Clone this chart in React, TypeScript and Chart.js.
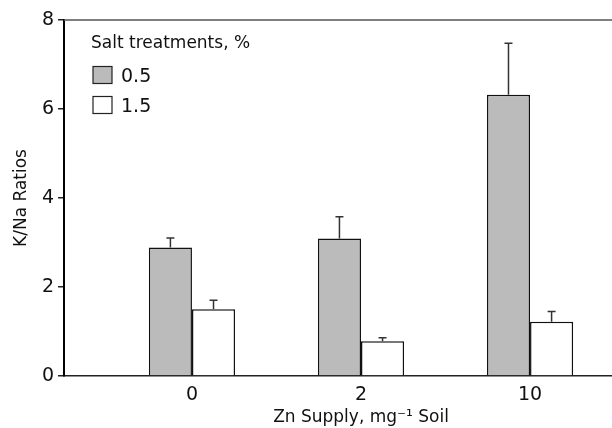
import React, { useEffect, useRef } from "react";
import { Chart, registerables } from "chart.js";

Chart.register(...registerables);

const categories = ["0", "2", "10"];
const seriesLabels = ["0.5", "1.5"];
const legendTitle = "Salt treatments, %";
const lowSalt = [2.89, 3.09, 6.32];
const lowSaltErr = [0.21, 0.49, 1.16];
const highSalt = [1.5, 0.78, 1.22];
const highSaltErr = [0.2, 0.08, 0.23];
const yTicks = [0, 2, 4, 6, 8];
const yTitle = "K/Na Ratios";
const xTitle = "Zn Supply, mg\u207B\u00B9 Soil";

const FONT = "'DejaVu Sans', sans-serif";

export default function App() {
  const ref = useRef<HTMLCanvasElement | null>(null);

  useEffect(() => {
    document.body.style.margin = "0";
    document.body.style.overflow = "hidden";
    const canvas = ref.current;
    if (!canvas) return;

    const errors = [lowSaltErr, highSaltErr];

    const errorPlugin = {
      id: "errorBars",
      afterDatasetsDraw(chart: any) {
        const ctx = chart.ctx;
        const yScale = chart.scales.y;
        ctx.save();
        ctx.strokeStyle = "#333";
        ctx.lineWidth = 1.5;
        chart.data.datasets.forEach((ds: any, di: number) => {
          const meta = chart.getDatasetMeta(di);
          meta.data.forEach((el: any, i: number) => {
            const v = ds.data[i].y;
            const e = errors[di][i];
            const yTop = yScale.getPixelForValue(v + e);
            const yBar = yScale.getPixelForValue(v);
            ctx.beginPath();
            ctx.moveTo(el.x, yBar);
            ctx.lineTo(el.x, yTop);
            ctx.moveTo(el.x - 4, yTop);
            ctx.lineTo(el.x + 4, yTop);
            ctx.stroke();
          });
        });
        ctx.restore();
      },
      afterDraw(chart: any) {
        const ctx = chart.ctx;
        const area = chart.chartArea;
        ctx.save();
        ctx.strokeStyle = "#555";
        ctx.lineWidth = 1.5;
        ctx.beginPath();
        ctx.moveTo(area.left, area.top);
        ctx.lineTo(area.right, area.top);
        ctx.stroke();
        ctx.fillStyle = "#111";
        ctx.font = `17px ${FONT}`;
        ctx.textBaseline = "middle";
        ctx.textAlign = "left";
        ctx.fillText(legendTitle, 91, 44);
        chart.data.datasets.forEach((ds: any, di: number) => {
          const cy = 75 + di * 30;
          ctx.fillStyle = ds.backgroundColor;
          ctx.strokeStyle = "#222";
          ctx.lineWidth = 1.2;
          ctx.fillRect(93, cy - 8.5, 19, 17);
          ctx.strokeRect(93, cy - 8.5, 19, 17);
          ctx.fillStyle = "#111";
          ctx.font = `19px ${FONT}`;
          ctx.fillText(ds.label, 121, cy + 2);
        });
        ctx.restore();
      },
    };

    const chart = new Chart(canvas, {
      type: "bar",
      data: {
        datasets: [
          {
            label: seriesLabels[0],
            data: lowSalt.map((v, i) => ({ x: i, y: v })),
            backgroundColor: "#bbbbbb",
            borderColor: "#111",
            borderWidth: 1.5,
          },
          {
            label: seriesLabels[1],
            data: highSalt.map((v, i) => ({ x: i, y: v })),
            backgroundColor: "#ffffff",
            borderColor: "#111",
            borderWidth: 1.5,
          },
        ],
      },
      options: {
        animation: false,
        responsive: false,
        devicePixelRatio: 1,
        categoryPercentage: 0.51,
        barPercentage: 1,
        layout: { padding: { top: 20, right: 22, left: 0, bottom: 0 } },
        plugins: { legend: { display: false }, tooltip: { enabled: false } },
        scales: {
          x: {
            type: "linear",
            offset: false,
            min: -0.757,
            max: 2.757,
            afterBuildTicks: (scale: any) => {
              scale.ticks = categories.map((_, i) => ({ value: i }));
            },
            afterFit: (scale: any) => {
              scale.height = 52;
            },
            grid: { display: false, drawTicks: false },
            border: { display: true, color: "#222", width: 1.5 },
            ticks: {
              padding: 8,
              color: "#111",
              font: { family: FONT, size: 19 },
              callback: (v: any) => categories[v] ?? "",
            },
            title: {
              display: true,
              text: xTitle,
              color: "#111",
              font: { family: FONT, size: 17 },
              padding: { top: 0, bottom: 0 },
            },
          },
          y: {
            min: 0,
            max: 8,
            afterBuildTicks: (scale: any) => {
              scale.ticks = yTicks.map((v) => ({ value: v }));
            },
            afterFit: (scale: any) => {
              scale.width = 64;
            },
            grid: {
              display: true,
              drawOnChartArea: false,
              drawTicks: true,
              tickLength: 6,
              color: "#222",
              lineWidth: 1.5,
            },
            border: { display: true, color: "#000", width: 2 },
            ticks: {
              padding: 4,
              color: "#111",
              font: { family: FONT, size: 19 },
            },
            title: {
              display: true,
              text: yTitle,
              color: "#111",
              font: { family: FONT, size: 17 },
              padding: { top: 11, bottom: 0 },
            },
          },
        },
      },
      plugins: [errorPlugin],
    } as any);

    return () => chart.destroy();
  }, []);

  return (
    <div style={{ width: 680, height: 428, position: "relative" }}>
      <canvas ref={ref} width={680} height={428} style={{ width: 680, height: 428, display: "block" }} />
    </div>
  );
}
